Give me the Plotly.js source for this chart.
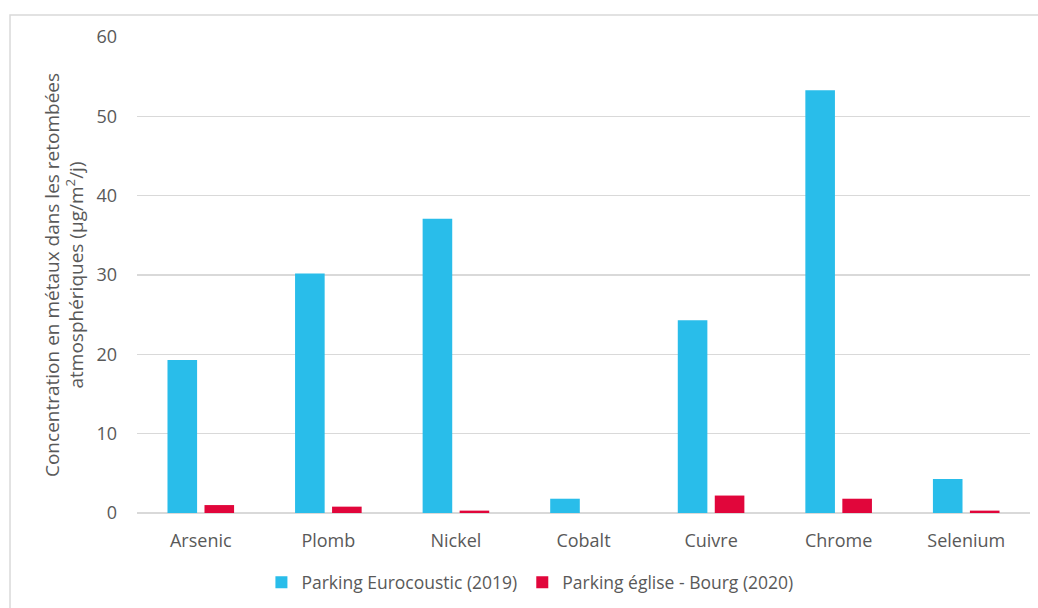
<!DOCTYPE html>
<html>
<head>
<meta charset="utf-8">
<script src="https://cdn.plot.ly/plotly-3.0.1.min.js"></script>
<style>html,body{margin:0;padding:0;background:#fff;}#chart{width:1038px;height:608px;}</style>
</head>
<body>
<div id="chart"></div>
<script>
const categories = ['Arsenic', 'Plomb', 'Nickel', 'Cobalt', 'Cuivre', 'Chrome', 'Selenium'];
const seriesNames = ['Parking Eurocoustic (2019)', 'Parking église - Bourg (2020)'];
const eurocoustic2019 = [19.3, 30.2, 37.1, 1.8, 24.3, 53.3, 4.3];
const egliseBourg2020 = [1.0, 0.8, 0.3, 0, 2.2, 1.8, 0.3];
const yTicks = [0, 10, 20, 30, 40, 50, 60];

const font = 'Open Sans, Noto Sans, sans-serif';
const grey = '#595959';

const traces = [
  {type: 'bar', name: seriesNames[0], x: categories, y: eurocoustic2019,
   marker: {color: '#29BDEA'}, hoverinfo: 'x+y'},
  {type: 'bar', name: seriesNames[1], x: categories, y: egliseBourg2020,
   marker: {color: '#E1063B'}, hoverinfo: 'x+y'}
];

const layout = {
  width: 1038, height: 608,
  margin: {l: 137, r: 8, t: 37, b: 95},
  paper_bgcolor: '#ffffff', plot_bgcolor: '#ffffff',
  font: {family: font, color: grey, size: 17},
  barmode: 'group', bargap: 0.42, bargroupgap: 0.2,
  showlegend: true,
  legend: {orientation: 'h', x: 0.44, xanchor: 'center', y: -0.146, yanchor: 'middle',
           font: {family: font, size: 17.5, color: grey}, traceorder: 'normal', itemgap: 42},
  xaxis: {type: 'category', showgrid: false, showline: false, zeroline: false,
          ticks: '', ticklabelstandoff: 15, tickfont: {family: font, size: 18, color: grey},
          fixedrange: true},
  yaxis: {range: [0, 60], tickvals: yTicks, ticktext: yTicks.map(String),
          showgrid: true, gridcolor: '#D9D9D9', gridwidth: 1.3,
          zeroline: true, zerolinecolor: '#D9D9D9', zerolinewidth: 1.5,
          showline: false, ticks: '', ticklabelstandoff: 19,
          tickfont: {family: font, size: 18, color: grey},
          title: {text: 'Concentration en métaux dans les retombées<br>atmosphériques (µg/m<sup>2</sup>/j)',
                  font: {family: font, size: 19, color: grey}, standoff: 7},
          fixedrange: true},
  shapes: [
    {type: 'rect', xref: 'paper', yref: 'paper', x0: -0.1422, x1: 1.05, y0: -0.3, y1: 1.0462,
     line: {color: '#D9D9D9', width: 1.5}, fillcolor: 'rgba(0,0,0,0)', layer: 'below'}
  ]
};

Plotly.newPlot('chart', traces, layout, {displayModeBar: false, staticPlot: true});
</script>
</body>
</html>
